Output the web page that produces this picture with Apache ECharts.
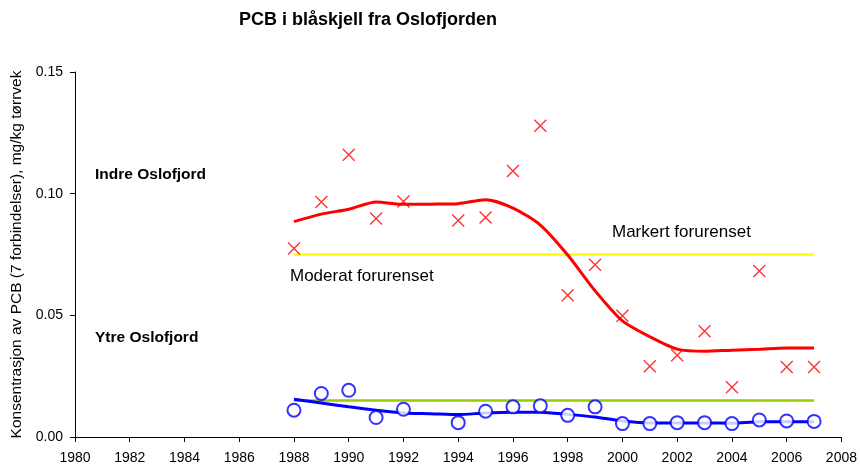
<!DOCTYPE html>
<html><head><meta charset="utf-8">
<script src="https://cdn.jsdelivr.net/npm/echarts@6/dist/echarts.min.js"></script>
<style>html,body{margin:0;padding:0;background:#fff}#c{width:860px;height:469px}</style>
</head><body><div id="c"></div>
<script>
var years = [1988,1989,1990,1991,1992,1993,1994,1995,1996,1997,1998,1999,2000,2001,2002,2003,2004,2005,2006,2007];
var indreObsYears = [1988,1989,1990,1991,1992,1994,1995,1996,1997,1998,1999,2000,2001,2002,2003,2004,2005,2006,2007];
var indreObs = [0.0775,0.0966,0.1160,0.0898,0.0968,0.0890,0.0902,0.1093,0.1279,0.0583,0.0708,0.0498,0.0291,0.0336,0.0435,0.0204,0.0682,0.0288,0.0288];
var indreTrend = [0.0885,0.0916,0.0936,0.0966,0.0956,0.0957,0.0959,0.0975,0.0941,0.0871,0.0748,0.0601,0.0477,0.0412,0.0361,0.0352,0.0357,0.0361,0.0366,0.0366];
var ytreObsYears = [1988,1989,1990,1991,1992,1994,1995,1996,1997,1998,1999,2000,2001,2002,2003,2004,2005,2006,2007];
var ytreObs = [0.0110,0.0179,0.0192,0.0080,0.0114,0.0059,0.0106,0.0124,0.0128,0.0089,0.0124,0.0055,0.0055,0.0059,0.0059,0.0055,0.0070,0.0066,0.0064];
var ytreTrend = [0.0155,0.0140,0.0124,0.0110,0.0099,0.0096,0.0092,0.0099,0.0102,0.0102,0.0093,0.0082,0.0066,0.0058,0.0058,0.0058,0.0057,0.0063,0.0063,0.0063];
var markertYears = [1988,2007];
var markertLevel = [0.075,0.075];
var moderatYears = [1988,2007];
var moderatLevel = [0.015,0.015];
var yTicks = {min:0, max:0.15, interval:0.05};
var xTicks = {min:1980, max:2008, interval:2};

function pairs(xs, ys){ return xs.map(function(x,i){return [x, ys[i]];}); }
var font = 'Liberation Sans, Arial, sans-serif';
var chart = echarts.init(document.getElementById('c'));
chart.setOption({
  animation:false,
  backgroundColor:'#fff',
  title:{text:'PCB i blåskjell fra Oslofjorden', left:363, textAlign:'center', top:6,
    textStyle:{fontFamily:font, fontSize:18, fontWeight:'bold', color:'#000'}},
  grid:{left:75, right:17, top:72, bottom:32},
  xAxis:{type:'value', min:xTicks.min, max:xTicks.max, interval:xTicks.interval,
    axisLine:{lineStyle:{color:'#000', width:1}}, axisTick:{length:5, lineStyle:{color:'#000'}},
    splitLine:{show:false},
    axisLabel:{color:'#000', fontFamily:font, fontSize:14, margin:14, formatter:function(v){return String(v);}}},
  yAxis:{type:'value', min:yTicks.min, max:yTicks.max, interval:yTicks.interval,
    name:'Konsentrasjon av PCB (7 forbindelser), mg/kg tørrvek', nameLocation:'middle', nameGap:48,
    nameTextStyle:{color:'#000', fontFamily:font, fontSize:15.5},
    axisLine:{show:true, lineStyle:{color:'#000', width:1}}, axisTick:{show:true, length:5, lineStyle:{color:'#000'}},
    splitLine:{show:false},
    axisLabel:{color:'#000', fontFamily:font, fontSize:14, margin:12, formatter:function(v){return v.toFixed(2);}}},
  graphic:[
    {type:'text', left:95, top:167, style:{text:'Indre Oslofjord', font:'bold 15.5px '+font, fill:'#000'}},
    {type:'text', left:95, top:330, style:{text:'Ytre Oslofjord', font:'bold 15.5px '+font, fill:'#000'}},
    {type:'text', left:290, top:268, style:{text:'Moderat forurenset', font:'17px '+font, fill:'#000'}},
    {type:'text', left:612, top:224, style:{text:'Markert forurenset', font:'17px '+font, fill:'#000'}}
  ],
  series:[
    {type:'line', data:pairs(markertYears, markertLevel), symbol:'none', lineStyle:{color:'#FFFF00', width:2.5}, z:1},
    {type:'line', data:pairs(moderatYears, moderatLevel), symbol:'none', lineStyle:{color:'#99CC00', width:2.5}, z:1},
    {type:'line', data:pairs(years, indreTrend), symbol:'none', smooth:0.25, lineStyle:{color:'#FF0000', width:3}, z:2},
    {type:'line', data:pairs(years, ytreTrend), symbol:'none', smooth:0.25, lineStyle:{color:'#0000FF', width:3}, z:2},
    {type:'scatter', data:pairs(indreObsYears, indreObs), symbol:'path://M0,0L10,10M10,0L0,10', symbolSize:12,
      itemStyle:{color:'rgba(0,0,0,0)', borderColor:'#FF0000', borderWidth:1.4}, z:3},
    {type:'scatter', data:pairs(ytreObsYears, ytreObs), symbol:'emptyCircle', symbolSize:13,
      itemStyle:{color:'#0000FF', borderColor:'#0000FF', borderWidth:1.4}, z:3}
  ]
});
</script></body></html>
